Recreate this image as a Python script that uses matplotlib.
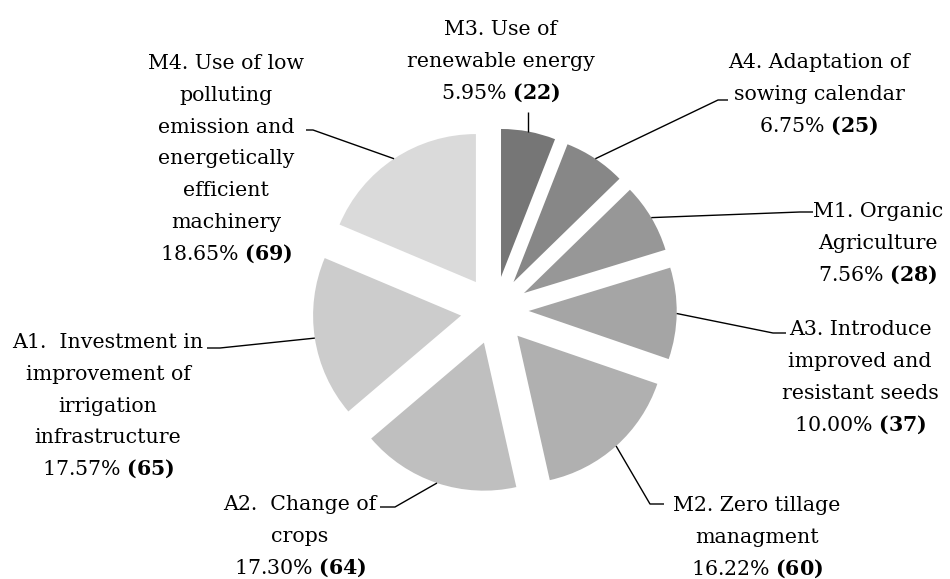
import math
import matplotlib.pyplot as plt

plt.rcParams['font.family'] = 'DejaVu Serif'
plt.rcParams['mathtext.fontset'] = 'custom'
plt.rcParams['mathtext.rm'] = 'DejaVu Serif'
plt.rcParams['mathtext.bf'] = 'DejaVu Serif:bold'

# data, clockwise from 12 o'clock
counts = [22, 25, 28, 37, 60, 64, 65, 69]
pct_labels = ['5.95%', '6.75%', '7.56%', '10.00%', '16.22%', '17.30%', '17.57%', '18.65%']
names = [
    ['M3. Use of', 'renewable energy'],
    ['A4. Adaptation of', 'sowing calendar'],
    ['M1. Organic', 'Agriculture'],
    ['A3. Introduce', 'improved and', 'resistant seeds'],
    ['M2. Zero tillage', 'managment'],
    ['A2.  Change of', 'crops'],
    ['A1.  Investment in', 'improvement of', 'irrigation', 'infrastructure'],
    ['M4. Use of low', 'polluting', 'emission and', 'energetically', 'efficient', 'machinery'],
]
colors = ['#767676', '#878787', '#979797', '#a5a5a5', '#b0b0b0', '#bfbfbf', '#cccccc', '#dadada']

# layout (pixel coords, y down)
center = (494.7, 310.4)
radius = 148
explode_px = 34
label_xy = [(501, 35), (819, 68), (878, 217), (860, 335),
            (757, 511), (300, 510), (108, 348), (226, 69)]
leader_pts = [
    [(None, 112)],
    [(718, 100), (728, 100)],
    [(800, 212), (813, 212)],
    [(773, 333), (786, 333)],
    [(650, 504), (664, 504)],
    [(395, 507), (380, 507)],
    [(220, 348), (207, 348)],
    [(313, 130), (306, 130)],
]
line_h = 31.8
fs = 14.8

fig = plt.figure(figsize=(9.5, 5.79), dpi=100)
ax = fig.add_axes([0, 0, 1, 1])

# y axis is inverted, so counterclock=True draws clockwise on screen
wedges, _ = ax.pie(counts, colors=colors, startangle=-90, counterclock=True,
                   radius=radius, center=center,
                   explode=[explode_px] * len(counts),
                   wedgeprops=dict(linewidth=0))
ax.set_xlim(0, 950)
ax.set_ylim(579, 0)
ax.set_aspect('equal')
ax.axis('off')

for i, w in enumerate(wedges):
    tm = math.radians((w.theta1 + w.theta2) / 2)
    ax_x = w.center[0] + w.r * math.cos(tm)
    ax_y = w.center[1] + w.r * math.sin(tm)
    xs, ys = [ax_x], [ax_y]
    for px, py in leader_pts[i]:
        xs.append(ax_x if px is None else px)
        ys.append(py)
    ax.plot(xs, ys, color='black', lw=1.0, solid_capstyle='butt')

    x0, y0 = label_xy[i]
    lines = names[i] + [pct_labels[i] + ' $\\mathbf{(' + str(counts[i]) + ')}$']
    for k, s in enumerate(lines):
        ax.text(x0, y0 + k * line_h, s, ha='center', va='baseline',
                fontsize=fs, color='black')

fig.savefig('out.png', dpi=100)
